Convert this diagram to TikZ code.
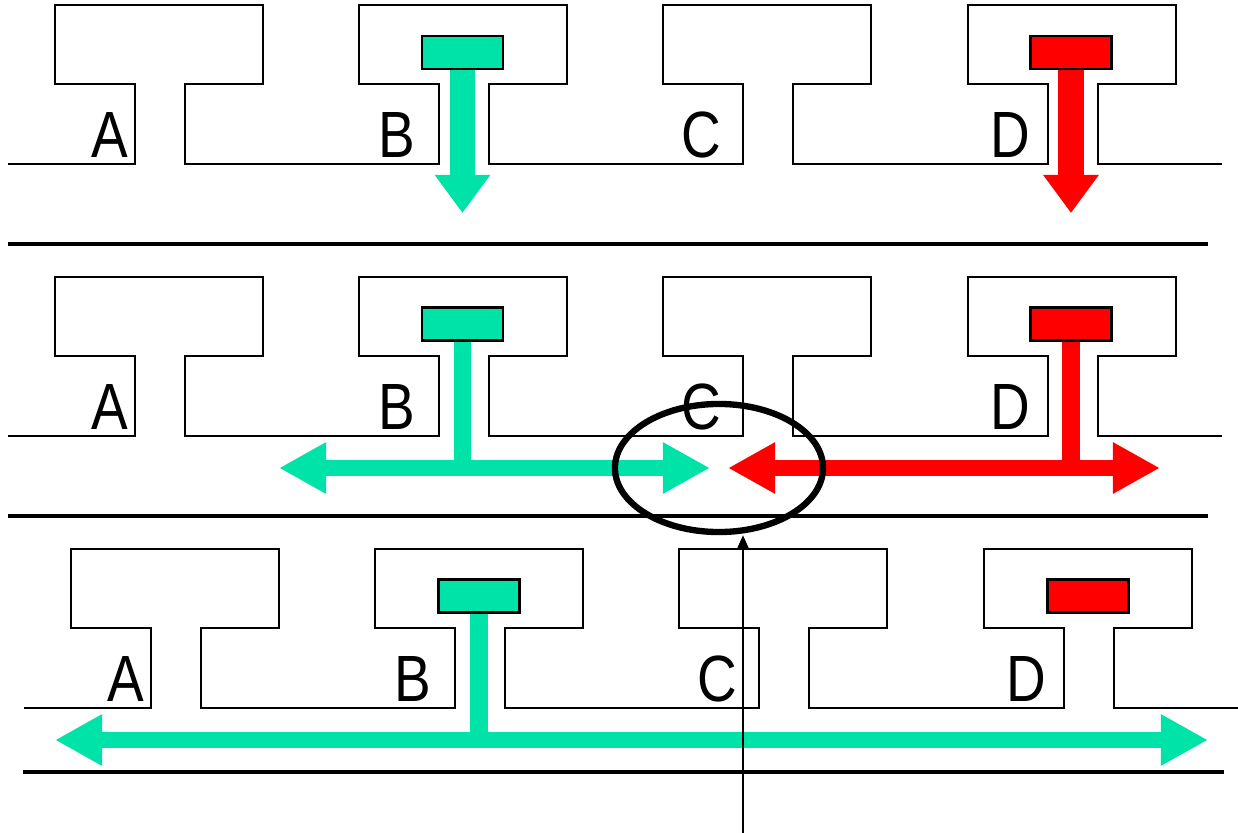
\documentclass[tikz,border=0pt]{standalone}
\usepackage{fontspec}
\newfontfamily\railfont[FakeStretch=0.84]{Liberation Sans}
\usepackage{xcolor}
\definecolor{mint}{RGB}{0,227,168}
\definecolor{alarm}{RGB}{255,0,0}
\usetikzlibrary{arrows.meta,shapes.geometric}

\begin{document}
\begin{tikzpicture}[x=0.01cm,y=-0.01cm,
  outline/.style={draw=black,line width=0.85pt,line join=miter},
  rail/.style={black,line width=0.9pt},
  lbl/.style={font=\railfont\fontsize{18.6}{20}\selectfont,anchor=base,inner sep=0pt},
  tag/.style={rectangle,draw=black,line width=0.6pt,
              minimum width=0.81cm,minimum height=0.33cm,inner sep=0pt},
  drop/.style={line width=0.25cm,-{Triangle[length=0.38cm,width=0.53cm]}},
  bus/.style={line width=0.17cm},
  busarr/.style={line width=0.16cm,
                 {Triangle[length=0.47cm,width=0.48cm]}-{Triangle[length=0.47cm,width=0.48cm]}},
  pointer/.style={line width=0.6pt,-{Triangle[length=0.13cm,width=0.11cm]}},
]
\useasboundingbox (0,0) rectangle (1238,833);

%% three copies of the slotted track
\foreach \dx/\dy/\r in {0/0/1,0/272/2,16/544/3}{
  \begin{scope}[shift={(\dx,\dy)}]
    \draw[outline] (8,164) \foreach \x in {55,359,663,968}{
      -- (\x+80,164) -- (\x+80,84) -- (\x,84) -- (\x,5) -- (\x+208,5)
      -- (\x+208,84) -- (\x+130,84) -- (\x+130,164)} -- (1222,164);
    \node[lbl] (A\r) at (109.5,157) {A};
    \node[lbl] (B\r) at (397,157) {B};
    \node[lbl] (C\r) at (701,157) {C};
    \node[lbl] (D\r) at (1010.5,157) {D};
  \end{scope}
}
\draw[rail] (8,244) -- (1208,244);
\draw[rail] (8,516) -- (1208,516);
\draw[rail] (23,772) -- (1224,772);

%% stations
\node[tag,fill=mint] (g1) at (462.5,52.5) {};
\node[tag,fill=alarm] (r1) at (1071,52.5) {};
\node[tag,fill=mint] (g2) at (462.5,324) {};
\node[tag,fill=alarm] (r2) at (1071,324) {};
\node[tag,fill=mint] (g3) at (479,596) {};
\node[tag,fill=alarm] (r3) at (1088,596) {};

%% row 1
\coordinate (g1end) at (462.5,213);
\coordinate (r1end) at (1071,213);
\draw[drop,mint] (g1) -- (g1end);
\draw[drop,alarm] (r1) -- (r1end);

%% row 2
\coordinate (g2l) at (279,468);
\coordinate (g2r) at (710,468);
\coordinate (r2l) at (728,468);
\coordinate (r2r) at (1160,468);
\draw[busarr,mint] (g2l) -- (g2r);
\draw[bus,mint] (g2) -- (g2 |- g2l);
\draw[busarr,alarm] (r2l) -- (r2r);
\draw[bus,alarm] (r2) -- (r2 |- r2l);

%% row 3
\coordinate (g3l) at (55,740);
\coordinate (g3r) at (1208,740);
\draw[busarr,mint] (g3l) -- (g3r);
\draw[bus,mint] (g3) -- (g3 |- g3l);

\node[ellipse,draw,line width=1.8pt,minimum width=2.08cm,minimum height=1.28cm,
      inner sep=0pt] (clash) at (719,468) {};
\coordinate (src) at (743,833);
\draw[pointer] (src) -- (src |- clash.south);
\end{tikzpicture}
\end{document}
